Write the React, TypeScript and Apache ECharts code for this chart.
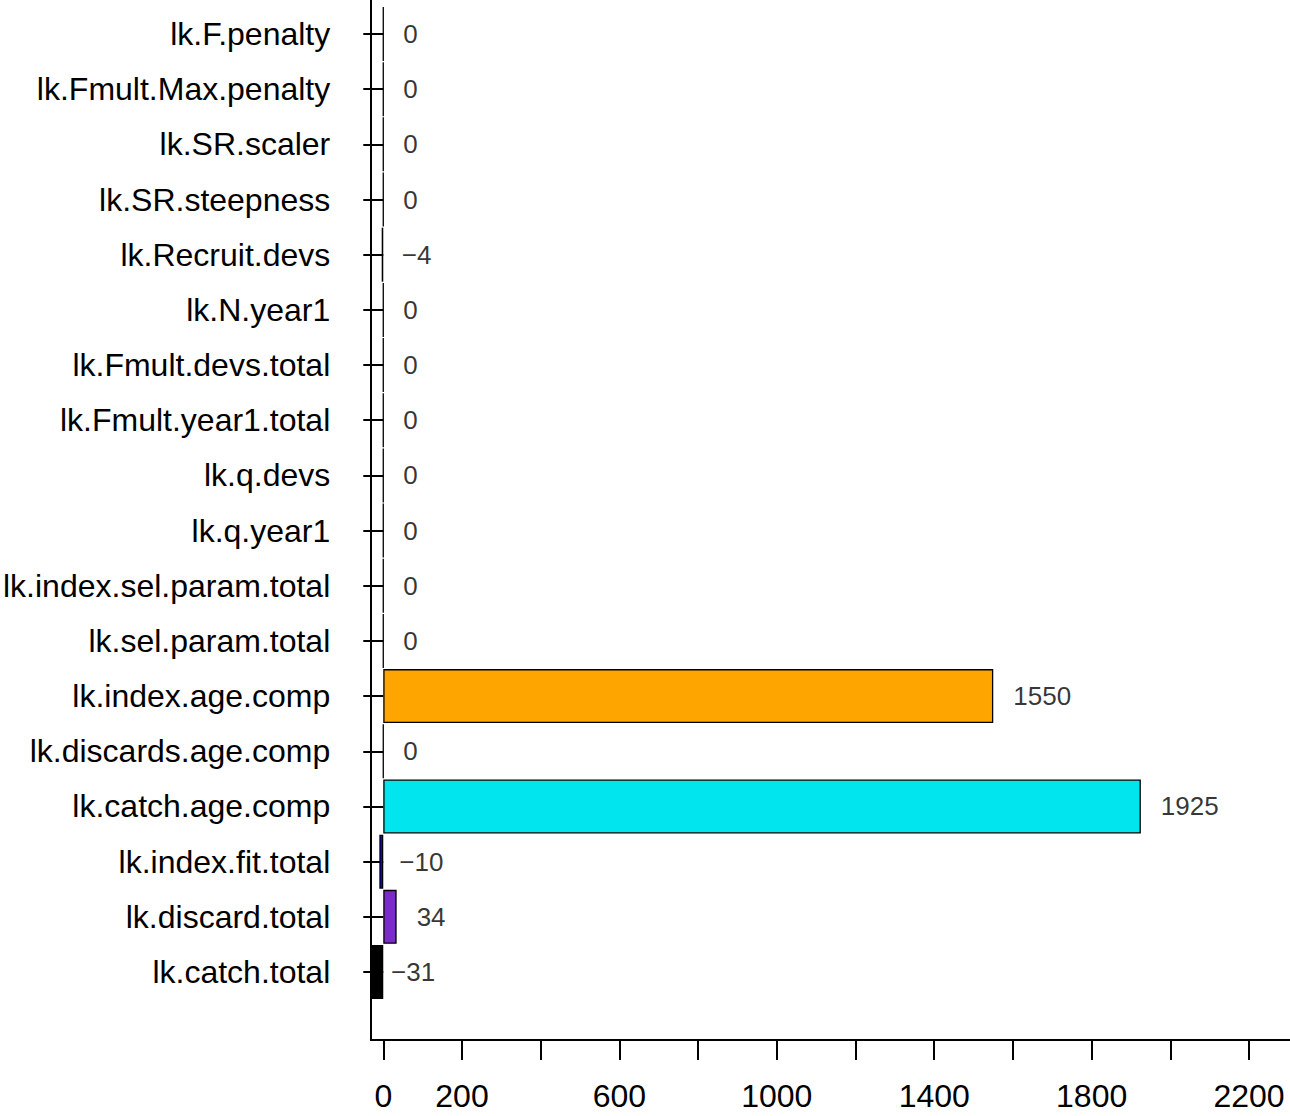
import React, { useEffect, useRef } from "react";
import * as echarts from "echarts";

const categories = [
  "lk.catch.total",
  "lk.discard.total",
  "lk.index.fit.total",
  "lk.catch.age.comp",
  "lk.discards.age.comp",
  "lk.index.age.comp",
  "lk.sel.param.total",
  "lk.index.sel.param.total",
  "lk.q.year1",
  "lk.q.devs",
  "lk.Fmult.year1.total",
  "lk.Fmult.devs.total",
  "lk.N.year1",
  "lk.Recruit.devs",
  "lk.SR.steepness",
  "lk.SR.scaler",
  "lk.Fmult.Max.penalty",
  "lk.F.penalty",
];

const values = [-31, 34, -10, 1925, 0, 1550, 0, 0, 0, 0, 0, 0, 0, -4, 0, 0, 0, 0];

const barColors = [
  "#000000",
  "#7B2CC8",
  "#0000FF",
  "#00E5EE",
  "#FFFFFF",
  "#FFA500",
  "#FFFFFF",
  "#FFFFFF",
  "#FFFFFF",
  "#FFFFFF",
  "#FFFFFF",
  "#FFFFFF",
  "#FFFFFF",
  "#000000",
  "#FFFFFF",
  "#FFFFFF",
  "#FFFFFF",
  "#FFFFFF",
];

const tickValues = [0, 200, 400, 600, 800, 1000, 1200, 1400, 1600, 1800, 2000, 2200];
const tickLabels = [0, 200, 600, 1000, 1400, 1800, 2200];

const FONT = "'Liberation Sans', Arial, Helvetica, sans-serif";

export default function App() {
  const ref = useRef<HTMLDivElement>(null);

  useEffect(() => {
    if (!ref.current) return;
    const chart = echarts.init(ref.current, null, { renderer: "svg" });
    chart.setOption({
      animation: false,
      backgroundColor: "#FFFFFF",
      textStyle: { fontFamily: FONT },
      grid: { left: 371, right: 0, top: 6.4, bottom: 116.4, containLabel: false },
      xAxis: {
        type: "value",
        min: -30.5,
        max: 2304,
        position: "bottom",
        offset: 40.4,
        splitLine: { show: false },
        axisLine: { show: true, lineStyle: { color: "#000", width: 2 } },
        axisTick: {
          show: true,
          customValues: tickValues,
          length: 20,
          lineStyle: { color: "#000", width: 2 },
        },
        axisLabel: {
          customValues: tickLabels,
          margin: 40,
          fontSize: 32,
          color: "#000",
          fontFamily: FONT,
          formatter: (v: number) => String(v),
        },
      },
      yAxis: {
        type: "category",
        data: categories,
        axisLine: { show: false },
        axisTick: {
          show: true,
          alignWithLabel: true,
          length: 20,
          lineStyle: { color: "#000", width: 2 },
        },
        axisLabel: {
          margin: 41,
          fontSize: 32,
          color: "#000",
          fontFamily: FONT,
        },
        splitLine: { show: false },
      },
      graphic: [
        {
          type: "line",
          shape: { x1: 371, y1: 0, x2: 371, y2: 1041 },
          style: { stroke: "#000", lineWidth: 2 },
          silent: true,
        },
      ],
      series: [
        {
          type: "bar",
          barWidth: 54,
          data: values.map((v, i) => ({
            value: v,
            itemStyle: { color: barColors[i] },
          })),
          itemStyle: { borderColor: "#000", borderWidth: 1.3 },
        },
        {
          type: "scatter",
          symbolSize: 0,
          silent: true,
          clip: false,
          data: values.map((v, i) => [v, categories[i]]),
          label: {
            show: true,
            position: "right",
            distance: 20,
            fontSize: 26,
            color: "#000",
            fontFamily: FONT,
            formatter: (p: any) => String(p.value[0]).replace("-", "\u2212"),
          },
        },
      ],
    });
    return () => chart.dispose();
  }, []);

  return (
    <div
      ref={ref}
      style={{ position: "absolute", left: 0, top: 0, width: 1290, height: 1116 }}
    />
  );
}
